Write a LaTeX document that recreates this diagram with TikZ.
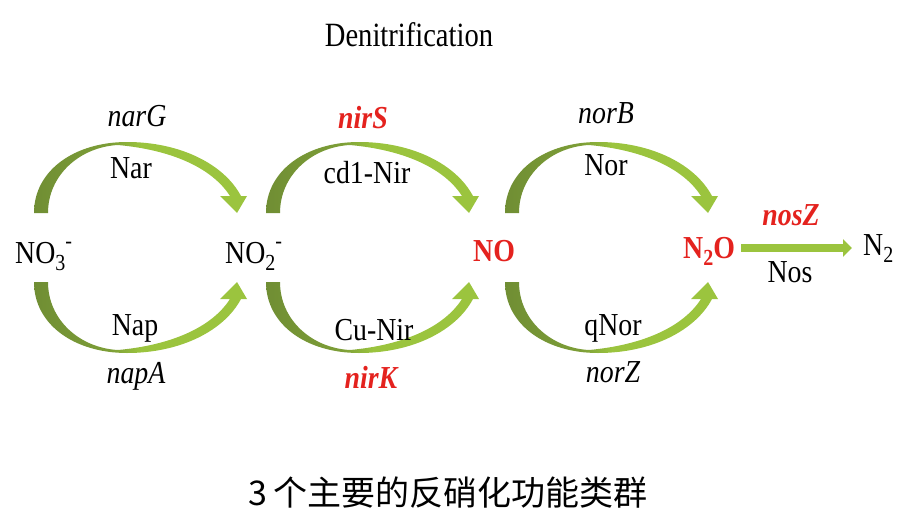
\documentclass[tikz,border=0pt]{standalone}
\usepackage{fontspec}
\setmainfont{Liberation Serif}[FakeStretch=0.87]
\newfontfamily\titlefont{Liberation Serif}[FakeStretch=0.84]
\newfontfamily\cjk{Noto Sans CJK SC}
\usetikzlibrary{arrows.meta}
\definecolor{dkg}{RGB}{112,142,52}
\definecolor{ltg}{RGB}{155,196,62}
\colorlet{midg}{dkg!70!ltg}
\definecolor{redt}{RGB}{228,34,30}
\pgfdeclarehorizontalshading{arcshade}{100bp}{color(0bp)=(dkg); color(25bp)=(dkg); color(43bp)=(midg); color(50bp)=(ltg); color(100bp)=(ltg)}
\newcommand\greenarc[1]{%
\begin{scope}[#1]
\shade[shading=arcshade] (34,213) .. controls (34,170) and (75,142) .. (127,142)
  .. controls (180,142) and (224,164) .. (241,196) -- (247,196) -- (237,213) -- (220,196) -- (230,196)
  .. controls (212,168) and (172,150) .. (118,145)
  .. controls (80,147) and (48,175) .. (48,213) -- cycle;
\end{scope}}
\newcommand\sbs[1]{\raisebox{-0.22em}{\fontsize{23}{23}\selectfont #1}}
\newcommand\sps[1]{\raisebox{0.46em}{\fontsize{23}{23}\selectfont #1}}
\begin{document}
\begin{tikzpicture}[x=1pt,y=-1pt,
  lbl/.style={font=\fontsize{32}{36}\selectfont, anchor=base, inner sep=0pt},
  gene/.style={lbl, font=\fontsize{32}{36}\selectfont\itshape},
  rgene/.style={lbl, text=redt, font=\fontsize{32}{36}\selectfont\bfseries\itshape},
  rchem/.style={lbl, anchor=base west, text=redt, font=\fontsize{32}{36}\selectfont\bfseries},
  chem/.style={lbl, anchor=base west},
  nosarrow/.style={ltg, line width=8pt, -{Triangle[length=9pt,width=17pt]}}]
\useasboundingbox (0,0) rectangle (902,530);
% curved tapered arrows
\greenarc{}
\greenarc{shift={(0,495)}, yscale=-1}
\greenarc{shift={(232,0)}}
\greenarc{shift={(232,495)}, yscale=-1}
\greenarc{shift={(471,0)}}
\greenarc{shift={(471,495)}, yscale=-1}
% title
\node[lbl, font=\titlefont\fontsize{34}{38}\selectfont] (title) at (409,46) {Denitrification};
% compounds
\node[chem] (no3) at (15,263) {NO\sbs{3}\sps{-}};
\node[chem] (no2) at (225,263) {NO\sbs{2}\sps{-}};
\node[rchem] (no) at (473,261) {NO};
\node[rchem] (n2o) at (683,258) {N\sbs{2}O};
\node[chem] (n2) at (863,255) {N\sbs{2}};
% enzymes and genes
\node[gene] (narG) at (137,126) {narG};
\node[lbl] (nar) at (131,178) {Nar};
\node[lbl] (nap) at (135,335) {Nap};
\node[gene] (napA) at (136,383) {napA};
\node[rgene] (nirS) at (363,128) {nirS};
\node[lbl] (cd1) at (367,183) {cd1-Nir};
\node[lbl] (cunir) at (374,340) {Cu-Nir};
\node[rgene] (nirK) at (371,388) {nirK};
\node[gene] (norB) at (606,123) {norB};
\node[lbl] (nor) at (606,175) {Nor};
\node[lbl] (qnor) at (613,335) {qNor};
\node[gene] (norZ) at (613,382) {norZ};
\node[rgene] (nosZ) at (791,225) {nosZ};
\node[lbl] (nos) at (790,282) {Nos};
% straight arrow
\coordinate (nsA) at (741,248);
\coordinate (nsB) at (852,248);
\draw[nosarrow] (nsA) -- (nsB);
% caption
\node[anchor=base, inner sep=0pt] (cap) at (448,505) {\cjk\fontsize{34}{38}\selectfont 3\hspace{7pt}个主要的反硝化功能类群};
\end{tikzpicture}
\end{document}
